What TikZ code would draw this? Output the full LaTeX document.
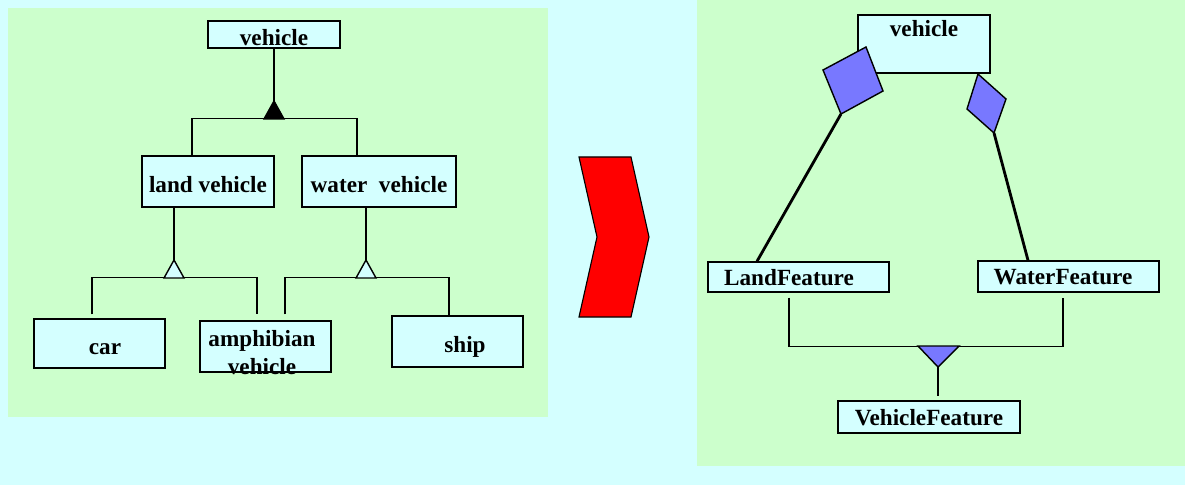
\documentclass[tikz,border=0pt]{standalone}
\usepackage{fontspec}
\setmainfont{Liberation Serif}
\usetikzlibrary{positioning, calc}
\definecolor{skybg}{RGB}{212,255,255}
\definecolor{panelgreen}{RGB}{204,255,204}
\definecolor{boxcyan}{RGB}{212,255,255}
\definecolor{featblue}{RGB}{120,120,255}
\newlength\pxu
\setlength\pxu{0.025cm}
\tikzset{
	cls/.style={rectangle, draw, fill=boxcyan, line width=1pt, inner ysep=0pt},
	lowtext/.style={text height=15.6pt, text depth=0pt},
	feattext/.style={text height=12pt, text depth=0pt},
	link/.style={draw, line width=1pt},
	boldlink/.style={draw, line width=2pt},
	gentri/.style={draw, line width=1pt, line join=miter}
}

\begin{document}
\begin{tikzpicture}[x=0.025cm, y=-0.025cm, font=\fontsize{16.5}{20}\selectfont\bfseries]
	\fill[skybg] (0,0) rectangle (1185,485);
	\useasboundingbox (0,0) rectangle (1185,485);
	% Green panels
	\fill[panelgreen] (8,8) rectangle (548,417);
	\fill[panelgreen] (697,0) rectangle (1185,466);
	
	% Left: class hierarchy
	\node[cls, lowtext, minimum width=132\pxu, minimum height=27\pxu] (vehicle) at (274,34.5) {vehicle};
	\node[cls, lowtext, minimum width=132\pxu, minimum height=51\pxu] (landveh) at (208,181.5) {land vehicle};
	\node[cls, lowtext, minimum width=154\pxu, minimum height=51\pxu] (waterveh) at (379,181.5) {water\ \ vehicle};
	\node[cls, minimum width=131\pxu, minimum height=49\pxu,
		label={[lowtext, xshift=5.5\pxu]center:car}] (car) at (99.5,343.5) {};
	\node[cls, minimum width=131\pxu, minimum height=51\pxu] (amph) at (265.5,346.5) {};
	\node[align=center] (amphtext) at ($(amph.center)+(-3.5,6.5)$) {amphibian\\vehicle};
	\node[cls, minimum width=131\pxu, minimum height=51\pxu,
		label={[lowtext, xshift=7.5\pxu]center:ship}] (ship) at (457.5,341.5) {};
	
	% Generalisation links
	\coordinate (topgen) at (274,101);
	\coordinate (landgen) at (174,260);
	\coordinate (watergen) at (366,260);
	\path[link] (vehicle.south) -- (topgen);
	\path[link] ($(landveh.north)+(-16,0)$) -- ++(0,-37) -| ($(waterveh.north)+(-22,0)$);
	\draw[gentri, fill=black] (topgen) -- ++(10,18) -- ++(-20,0) -- cycle;
	\path[link] ($(landveh.south)+(-34,0)$) -- (landgen);
	\path[link] ($(car.north)+(-7.5,-4)$) -- ++(0,-37) -| ($(amph.north)+(-8.5,-6)$);
	\draw[gentri, fill=boxcyan] (landgen) -- ++(10,18) -- ++(-20,0) -- cycle;
	\path[link] ($(waterveh.south)+(-13,0)$) -- (watergen);
	\path[link] ($(amph.north)+(19.5,-6)$) -- ++(0,-37) -| ($(ship.north)+(-8.5,0)$);
	\draw[gentri, fill=boxcyan] (watergen) -- ++(10,18) -- ++(-20,0) -- cycle;
	
	% Transformation arrow
	\draw[fill=red, line width=0.8pt] (579,157) -- (631,157) -- (649,237) -- (631,317) -- (579,317) -- (597,237) -- cycle;
	
	% Right: feature model
	\node[cls, minimum width=132\pxu, minimum height=58\pxu] (vehicleR) at (924,44) {};
	\node (vehicleRtext) at ($(vehicleR.north)+(0,14.5)$) {vehicle};
	\node[cls, minimum width=181\pxu, minimum height=30\pxu,
		label={[feattext, xshift=-9.5\pxu]center:LandFeature}] (landfeat) at (798.5,277) {};
	\node[cls, minimum width=181\pxu, minimum height=31\pxu,
		label={[feattext, xshift=-5.5\pxu]center:WaterFeature}] (waterfeat) at (1068.5,276.5) {};
	\node[cls, feattext, minimum width=182\pxu, minimum height=32\pxu] (vehfeat) at (929,417) {VehicleFeature};
	
	% Composition diamonds
	\coordinate (landdia) at (841,114);
	\coordinate (waterdia) at (994,133);
	\path[boldlink] (landdia) -- ($(landfeat.north)+(-41.5,0)$);
	\path[boldlink] (waterdia) -- ($(waterfeat.north)+(-40.5,0)$);
	\draw[gentri, fill=featblue] (823,70) -- (866,47) -- (883,91) -- (landdia) -- cycle;
	\draw[gentri, fill=featblue] (978,74) -- (1006,99) -- (waterdia) -- (967,109) -- cycle;
	
	% Feature specialisation
	\coordinate (featgen) at (938,367);
	\path[link] ($(landfeat.south)+(-9.5,5)$) -- ++(0,49) -| ($(waterfeat.south)+(-5.5,5)$);
	\draw[gentri, fill=featblue] (918,346) -- (959,346) -- (featgen) -- cycle;
	\path[link] (featgen) -- ($(vehfeat.north)+(9,-4)$);
\end{tikzpicture}
\end{document}
